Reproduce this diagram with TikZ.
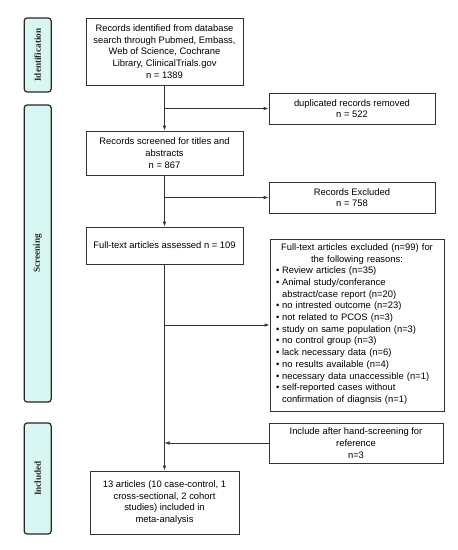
\documentclass[tikz,border=0pt]{standalone}
\usepackage{fontspec}
\setmainfont{Liberation Sans}
\newfontfamily\barfont{Liberation Serif}
\usetikzlibrary{arrows.meta}
\definecolor{barfill}{HTML}{D8F7F2}
\definecolor{boxline}{HTML}{333333}
\tikzset{
  box/.style={draw=boxline, line width=0.8pt, inner sep=0pt, align=center,
    font=\fontsize{9.4}{11.7}\selectfont, anchor=center},
  phase/.style={draw=black!85, line width=1.2pt, fill=barfill, rounded corners=3pt,
    inner sep=0pt, anchor=center},
  phasetext/.style={rotate=90, font=\barfont\bfseries\fontsize{9.2}{10}\selectfont, text=black!85},
  conn/.style={draw=boxline, line width=0.8pt},
  arr/.style={conn, -{Latex[length=5pt,width=3.6pt]}}
}
\begin{document}
\begin{tikzpicture}[x=1pt,y=-1pt]
\useasboundingbox (0,0) rectangle (458,550);
% phase bars
\node[phase, minimum width=27pt, minimum height=74pt] (pid) at (37.7,55) {};
\node[phasetext] at (pid.center) {Identification};
\node[phase, minimum width=27pt, minimum height=297pt] (psc) at (37.7,253.5) {};
\node[phasetext] at (psc.center) {Screening};
\node[phase, minimum width=27pt, minimum height=111pt] (pin) at (37.7,478.5) {};
\node[phasetext] at (pin.center) {Included};
% boxes
\node[box, minimum width=157pt, minimum height=67pt] (b1) at (164.5,51.5)
  {Records identified from database\\ search through Pubmed, Embass,\\ Web of Science, Cochrane\\ Library, ClinicalTrials.gov\\ n = 1389};
\node[box, minimum width=166pt, minimum height=31pt] (dup) at (352,108.5)
  {duplicated records removed\\ n = 522};
\node[box, minimum width=157pt, minimum height=44pt] (b2) at (164.5,153)
  {Records screened for titles and\\ abstracts\\ n = 867};
\node[box, minimum width=166pt, minimum height=31pt] (rex) at (352,197.5)
  {Records Excluded\\ n = 758};
\node[box, minimum width=157pt, minimum height=37pt] (b3) at (164.5,245.5)
  {Full-text articles assessed n = 109};
\node[box, minimum width=174pt, minimum height=172pt, text width=162pt, align=left] (fex) at (357,325)
  {{\centering Full-text articles excluded (n=99) for\\ the following reasons:\par}
   \begin{tabular}{@{}l@{\hspace{2.8pt}}l@{}}
   \textbullet & Review articles (n=35)\\
   \textbullet & Animal study/conferance\\
               & abstract/case report (n=20)\\
   \textbullet & no intrested outcome (n=23)\\
   \textbullet & not related to PCOS (n=3)\\
   \textbullet & study on same population (n=3)\\
   \textbullet & no control group (n=3)\\
   \textbullet & lack necessary data (n=6)\\
   \textbullet & no results available (n=4)\\
   \textbullet & necessary data unaccessible (n=1)\\
   \textbullet & self-reported cases without\\
               & confirmation of diagnsis (n=1)
   \end{tabular}};
\node[box, minimum width=174pt, minimum height=40pt] (inc) at (356,443)
  {Include after hand-screening for\\ reference\\ n=3};
\node[box, minimum width=149pt, minimum height=63pt] (fin) at (164.5,502.5)
  {13 articles (10 case-control, 1\\ cross-sectional, 2 cohort\\ studies) included in\\ meta-analysis};
% connectors
\coordinate (j1) at (164.5,108.5);
\coordinate (j2) at (164.5,197.5);
\coordinate (j3) at (164.5,325);
\coordinate (j4) at (164.5,443);
\draw[arr] (b1.south) -- (b2.north);
\draw[arr] (j1) -- (dup.west);
\draw[arr] (b2.south) -- (b3.north);
\draw[arr] (j2) -- (rex.west);
\draw[arr] (b3.south) -- (fin.north);
\draw[arr] (j3) -- (fex.west);
\draw[arr] (inc.west) -- (j4);
\end{tikzpicture}
\end{document}
